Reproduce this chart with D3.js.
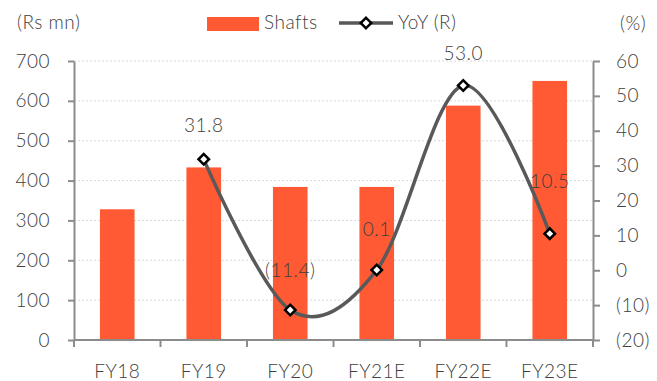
<!DOCTYPE html>
<html>
<head>
<meta charset="utf-8">
<script src="https://cdn.jsdelivr.net/npm/d3@7"></script>
<style>
  html, body { margin: 0; padding: 0; background: #fff; }
  svg text { font-family: "Lato Light", Lato, "Open Sans", sans-serif; font-weight: 300; fill: #404040; letter-spacing: 0.5px; }
</style>
</head>
<body>
<svg id="chart" width="657" height="381"></svg>
<script>
// Shafts revenue (Rs mn) and year-on-year growth (%)
const categories = ["FY18", "FY19", "FY20", "FY21E", "FY22E", "FY23E"];
const shafts = [328, 433, 384, 384, 588, 650];
const yoy = [null, 31.8, -11.4, 0.1, 53.0, 10.5];
const yoyLabels = ["", "31.8", "(11.4)", "0.1", "53.0", "10.5"];
const leftTicks = [0, 100, 200, 300, 400, 500, 600, 700];
const rightTicks = [-20, -10, 0, 10, 20, 30, 40, 50, 60];
const rightTickLabels = ["(20)", "(10)", "0", "10", "20", "30", "40", "50", "60"];

const svg = d3.select("#chart");
const plot = { left: 74, right: 593, top: 61, bottom: 340 };
const barColor = "#FF5A33";
const lineColor = "#595959";
const axisColor = "#8c8c8c";
const fontSize = 19;

const x = d3.scaleBand()
  .domain(categories)
  .range([plot.left, plot.right])
  .paddingInner(0.6)
  .paddingOuter(0.3);
const step = x.step();
const cx = c => x(c) + x.bandwidth() / 2;

const yL = d3.scaleLinear().domain([0, 700]).range([plot.bottom, plot.top]);
const yR = d3.scaleLinear().domain([-20, 60]).range([plot.bottom, plot.top]);

// horizontal dotted gridlines
svg.append("g")
  .selectAll("line")
  .data(leftTicks.filter(t => t > 0))
  .join("line")
  .attr("x1", plot.left).attr("x2", plot.right)
  .attr("y1", d => yL(d)).attr("y2", d => yL(d))
  .attr("stroke", "#d9d9d9")
  .attr("stroke-width", 1)
  .attr("stroke-dasharray", "2,2");

// bars
svg.append("g")
  .selectAll("rect")
  .data(categories)
  .join("rect")
  .attr("x", d => x(d))
  .attr("width", x.bandwidth())
  .attr("y", (d, i) => yL(shafts[i]))
  .attr("height", (d, i) => yL(0) - yL(shafts[i]))
  .attr("fill", barColor);

// left axis
const leftAxis = svg.append("g")
  .attr("transform", `translate(${plot.left},0)`)
  .call(d3.axisLeft(yL).tickValues(leftTicks).tickSize(6).tickPadding(18).tickSizeOuter(0));
leftAxis.select(".domain").attr("stroke", axisColor).attr("stroke-width", 2);
leftAxis.selectAll(".tick line").attr("stroke", axisColor).attr("stroke-width", 2);
leftAxis.selectAll(".tick text")
  .attr("font-size", fontSize).attr("font-family", null).attr("fill", "#404040");

// right axis
const rightAxis = svg.append("g")
  .attr("transform", `translate(${plot.right},0)`)
  .call(d3.axisRight(yR).tickValues(rightTicks).tickSize(7).tickPadding(16).tickSizeOuter(0)
    .tickFormat((d, i) => rightTickLabels[i]));
rightAxis.select(".domain").attr("stroke", axisColor).attr("stroke-width", 2);
rightAxis.selectAll(".tick line").attr("stroke", axisColor).attr("stroke-width", 2);
rightAxis.selectAll(".tick text")
  .attr("font-size", fontSize).attr("font-family", null).attr("fill", "#404040");

// category axis: baseline with ticks between categories
const xAxisG = svg.append("g");
xAxisG.append("line")
  .attr("x1", plot.left).attr("x2", plot.right)
  .attr("y1", plot.bottom).attr("y2", plot.bottom)
  .attr("stroke", axisColor).attr("stroke-width", 2);
xAxisG.selectAll("line.tick")
  .data(d3.range(categories.length + 1))
  .join("line")
  .attr("class", "tick")
  .attr("x1", i => plot.left + i * step).attr("x2", i => plot.left + i * step)
  .attr("y1", plot.bottom).attr("y2", plot.bottom + 7)
  .attr("stroke", axisColor).attr("stroke-width", 2);
xAxisG.selectAll("text")
  .data(categories)
  .join("text")
  .attr("x", d => cx(d))
  .attr("y", 378)
  .attr("text-anchor", "middle")
  .attr("font-size", fontSize)
  .text(d => d);

// YoY smoothed line
const pts = categories.map((c, i) => ({ c, v: yoy[i], label: yoyLabels[i] })).filter(d => d.v !== null);
const line = d3.line()
  .x(d => cx(d.c))
  .y(d => yR(d.v))
  .curve(d3.curveCardinal.tension(0));
svg.append("path")
  .datum(pts)
  .attr("d", line)
  .attr("fill", "none")
  .attr("stroke", lineColor)
  .attr("stroke-width", 3.5);

// diamond markers
const diamond = d3.symbol().type(d3.symbolSquare).size(55);
svg.append("g")
  .selectAll("path")
  .data(pts)
  .join("path")
  .attr("d", diamond)
  .attr("transform", d => `translate(${cx(d.c)},${yR(d.v)}) rotate(45)`)
  .attr("fill", "#fff")
  .attr("stroke", "#000")
  .attr("stroke-width", 2.5);

// value labels above the line (vertical offsets in px)
const labelLift = [0, 27, 33, 34, 25, 46];
svg.append("g")
  .selectAll("text")
  .data(pts)
  .join("text")
  .attr("x", d => cx(d.c))
  .attr("y", d => yR(d.v) - labelLift[categories.indexOf(d.c)])
  .attr("text-anchor", "middle")
  .attr("font-size", fontSize)
  .text(d => d.label);

// unit captions
svg.append("text").attr("x", 17).attr("y", 29).attr("font-size", fontSize).text("(Rs mn)");
svg.append("text").attr("x", 620).attr("y", 30).attr("font-size", fontSize).text("(%)");

// legend
const lg = svg.append("g");
lg.append("rect").attr("x", 207).attr("y", 17).attr("width", 52).attr("height", 14).attr("fill", barColor);
lg.append("text").attr("x", 264).attr("y", 29).attr("font-size", fontSize).text("Shafts");
lg.append("line").attr("x1", 339).attr("x2", 393).attr("y1", 23).attr("y2", 23)
  .attr("stroke", lineColor).attr("stroke-width", 3.5);
lg.append("path").attr("d", diamond)
  .attr("transform", "translate(366,23) rotate(45)")
  .attr("fill", "#fff").attr("stroke", "#000").attr("stroke-width", 2.5);
lg.append("text").attr("x", 398).attr("y", 29).attr("font-size", fontSize).text("YoY (R)");
</script>
</body>
</html>
